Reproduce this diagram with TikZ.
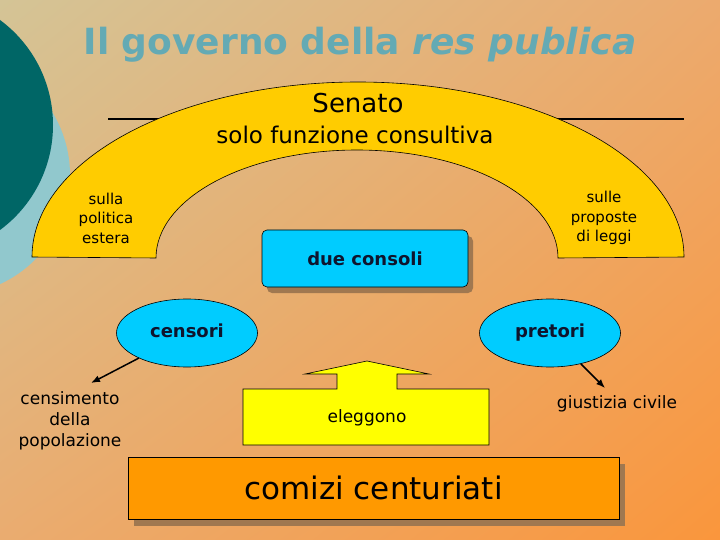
\documentclass[tikz,border=0pt]{standalone}
\usepackage{fontspec}
\setmainfont{DejaVu Sans}
\usetikzlibrary{shapes.geometric,shadows,shadings,arrows.meta}

\definecolor{bgtl}{RGB}{212,196,150}
\definecolor{bgtr}{RGB}{236,170,110}
\definecolor{bgbl}{RGB}{234,172,112}
\definecolor{bgbr}{RGB}{250,150,60}
\definecolor{darkteal}{RGB}{0,102,102}
\definecolor{lightteal}{RGB}{145,200,205}
\definecolor{titolo}{RGB}{100,170,180}
\definecolor{senato}{RGB}{255,204,0}
\definecolor{celeste}{RGB}{0,204,255}
\definecolor{giallo}{RGB}{255,255,0}
\definecolor{arancio}{RGB}{255,153,0}
\definecolor{ombra}{RGB}{160,120,80}
\definecolor{blutesto}{RGB}{15,20,45}

\tikzset{
  arco/.style={fill=senato, draw=black, line width=0.6pt},
  magistrato/.style={ellipse, fill=celeste, draw=black, line width=0.6pt,
    minimum width=141pt, minimum height=68pt, inner sep=0pt,
    text height=12pt, text depth=4pt,
    font=\fontsize{18}{22}\selectfont\bfseries, text=blutesto},
  consoli/.style={rectangle, rounded corners=5pt, fill=celeste, draw=black,
    line width=0.6pt, minimum width=206pt, minimum height=57pt,
    font=\fontsize{18}{22}\selectfont\bfseries, text=blutesto,
    drop shadow={shadow xshift=5pt, shadow yshift=-6pt, fill=ombra, opacity=1}},
  comizi/.style={rectangle, fill=arancio, draw=black, line width=0.6pt,
    minimum width=491pt, minimum height=62pt,
    font=\fontsize{31}{36}\selectfont,
    drop shadow={shadow xshift=6pt, shadow yshift=-7pt, fill=ombra, opacity=1}},
  nota/.style={align=center, font=\fontsize{15}{19.5}\selectfont},
  compito/.style={align=center, font=\fontsize{17}{21}\selectfont},
  freccia/.style={-{Latex[length=9pt, width=7pt]}, line width=1.5pt}
}

\begin{document}
\begin{tikzpicture}[x=1pt, y=-1pt]
\useasboundingbox (0,0) rectangle (720,540);
\shade[upper left=bgtl, upper right=bgtr, lower left=bgbl, lower right=bgbr]
  (0,0) rectangle (720,540);
\begin{scope}
\clip (0,0) rectangle (720,540);
\fill[lightteal] (-50,175) circle[radius=120pt];
\fill[darkteal] (-77.5,125) circle[radius=130.5pt];
\end{scope}

\node[anchor=base, text=titolo, font=\fontsize{36}{40}\selectfont\bfseries]
  (titolo) at (360,55) {Il governo della \itshape res publica};

\draw[line width=1.8pt] (108,119) -- (170,119);
\draw[line width=1.8pt] (545,119) -- (684,119);
\draw[arco] (32,257) arc[start angle=180, end angle=0, x radius=326pt, y radius=175pt]
  -- (558,258) arc[start angle=0, end angle=180, x radius=201pt, y radius=108pt]
  -- cycle;

\node[font=\fontsize{26}{30}\selectfont] (senato) at (358,103) {Senato};
\node[font=\fontsize{23}{27}\selectfont] (funzione) at (355,135) {solo funzione consultiva};
\node[nota] (estera) at (106,218) {sulla\\politica\\estera};
\node[nota] (leggi) at (604,218) {sulle\\proposte\\di leggi};

\node[consoli] (consoli) at (365,258.5) {due consoli};
\node[magistrato] (censori) at (187,333) {censori};
\node[magistrato] (pretori) at (550,333) {pretori};

\coordinate (fine1) at (91,383);
\coordinate (fine2) at (605,388);
\draw[freccia] (censori) -- (fine1);
\draw[freccia] (pretori) -- (fine2);
\node[compito] (censimento) at (70,421) {censimento\\della\\popolazione};
\node[compito] (giustizia) at (617,404) {giustizia civile};

\draw[fill=giallo, line width=0.6pt] (243,445) -- (243,389) -- (337,389) -- (337,374)
  -- (305,374) -- (367,361) -- (429,374) -- (397,374) -- (397,389) -- (489,389)
  -- (489,445) -- cycle;
\node[compito] (eleggono) at (367,418) {eleggono};

\node[comizi] (centuriati) at (373.5,488) {comizi centuriati};
\end{tikzpicture}
\end{document}
